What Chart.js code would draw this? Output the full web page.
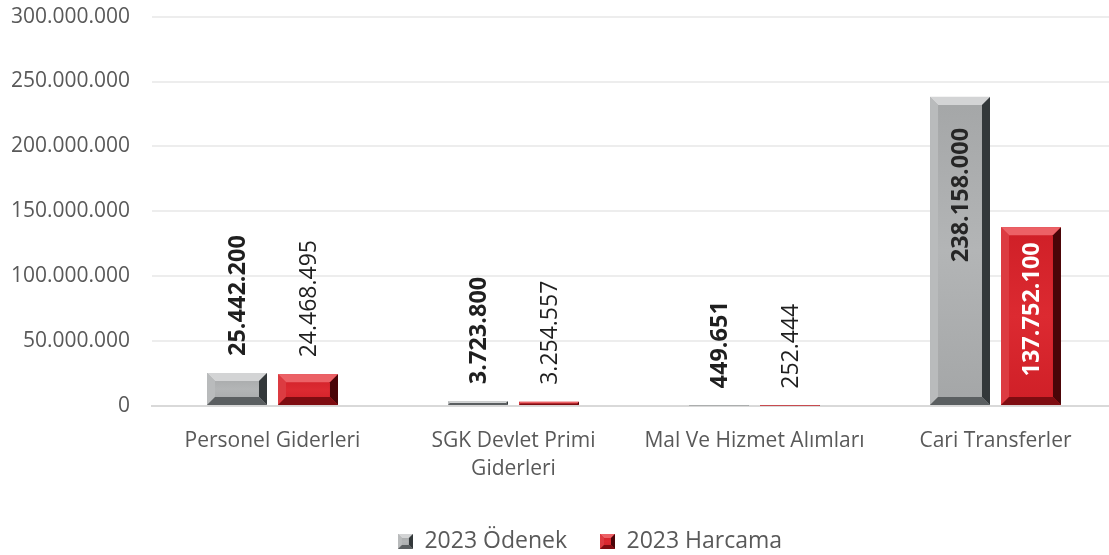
<!DOCTYPE html>
<html lang="tr">

<head>
    <meta charset="UTF-8">
    <title>2023 Ödenek / Harcama</title>
    <script src="https://cdn.jsdelivr.net/npm/chart.js"></script>
    <style>
        * {
            margin: 0;
            padding: 0;
            box-sizing: border-box;
        }

        body {
            background: #ffffff;
            width: 1109px;
            height: 555px;
            overflow: hidden;
        }

        .chart-box {
            position: relative;
            width: 1117px;
            height: 555px;
        }
    </style>
</head>

<body>
    <div class="chart-box">
        <canvas id="giderChart"></canvas>
    </div>

    <script>
        // data
        const categories = ['Personel Giderleri', ['SGK Devlet Primi', 'Giderleri'], 'Mal Ve Hizmet Alımları', 'Cari Transferler'];
        const odenek = [25442200, 3723800, 449651, 238158000];
        const harcama = [24468495, 3254557, 252444, 137752100];
        const seriesNames = ['2023 Ödenek', '2023 Harcama'];
        const yTicks = [0, 50000000, 100000000, 150000000, 200000000, 250000000, 300000000];

        const FONT = "'Open Sans', 'Noto Sans', sans-serif";

        // bevel colours per series
        const palettes = [
            { face: '#a4a6a7', faceMid: '#b3b5b6', top: '#d3d4d5', left: '#b9bbbc', right: '#33383a', bottom: '#5b5f61' },
            { face: '#cf1f27', faceMid: '#dc2a31', top: '#ec6166', left: '#dc3b41', right: '#4a0508', bottom: '#7e0c11' }
        ];

        function trTR(n) {
            return String(Math.round(n)).replace(/\B(?=(\d{3})+(?!\d))/g, '.');
        }

        function poly(ctx, pts, fill) {
            ctx.beginPath();
            ctx.moveTo(pts[0][0], pts[0][1]);
            for (let i = 1; i < pts.length; i++) ctx.lineTo(pts[i][0], pts[i][1]);
            ctx.closePath();
            ctx.fillStyle = fill;
            ctx.fill();
        }

        function drawBevel(ctx, l, t, r, bot, pal, size) {
            const w = r - l, h = bot - t;
            if (w <= 0 || h <= 0) return;
            const b = Math.min(size, w / 2, h / 2);
            // face
            const g = ctx.createLinearGradient(0, t, 0, bot);
            g.addColorStop(0, pal.face);
            g.addColorStop(0.5, pal.faceMid);
            g.addColorStop(1, pal.face);
            ctx.fillStyle = g;
            ctx.fillRect(l, t, w, h);
            poly(ctx, [[l, t], [r, t], [r - b, t + b], [l + b, t + b]], pal.top);
            poly(ctx, [[l, t], [l + b, t + b], [l + b, bot - b], [l, bot]], pal.left);
            poly(ctx, [[r, t], [r, bot], [r - b, bot - b], [r - b, t + b]], pal.right);
            poly(ctx, [[l, bot], [r, bot], [r - b, bot - b], [l + b, bot - b]], pal.bottom);
        }

        // small beveled squares for the legend
        const swatches = palettes.map(pal => {
            const c = document.createElement('canvas');
            c.width = 15;
            c.height = 15;
            drawBevel(c.getContext('2d'), 0, 0, 15, 15, pal, 4);
            return c;
        });

        const bevelBars = {
            id: 'bevelBars',
            afterDatasetDraw(chart, args) {
                const ctx = chart.ctx;
                const pal = palettes[args.index];
                ctx.save();
                args.meta.data.forEach(bar => {
                    const { x, y, base, width } = bar.getProps(['x', 'y', 'base', 'width'], true);
                    drawBevel(ctx, x - width / 2, Math.min(y, base), x + width / 2, Math.max(y, base), pal, 8);
                });
                ctx.restore();
            }
        };

        // vertical value labels
        const valueLabels = {
            id: 'valueLabels',
            afterDatasetsDraw(chart) {
                const ctx = chart.ctx;
                ctx.save();
                chart.data.datasets.forEach((ds, di) => {
                    const meta = chart.getDatasetMeta(di);
                    meta.data.forEach((bar, i) => {
                        const { x, y } = bar.getProps(['x', 'y'], true);
                        const text = trTR(ds.data[i]);
                        const inside = i === 3;
                        const bold = di === 0 || inside;
                        ctx.font = (bold ? 'bold 23.5px ' : '23px ') + FONT;
                        ctx.textBaseline = 'middle';
                        ctx.save();
                        if (inside) {
                            ctx.translate(x + 1, y + (di === 0 ? 31 : 15));
                            ctx.rotate(-Math.PI / 2);
                            ctx.textAlign = 'right';
                            ctx.fillStyle = di === 0 ? '#262626' : '#ffffff';
                        } else {
                            ctx.translate(x + 1, y - 17);
                            ctx.rotate(-Math.PI / 2);
                            ctx.textAlign = 'left';
                            ctx.fillStyle = '#1f1f1f';
                        }
                        ctx.fillText(text, 0, 0);
                        ctx.restore();
                    });
                });
                ctx.restore();
            }
        };

        // nudge the legend to where it sits in the original
        const legendNudge = {
            id: 'legendNudge',
            afterLayout(chart) {
                const lg = chart.legend;
                if (!lg) return;
                lg.left += 64;
                lg.top += 8;
                lg.bottom += 8;
            }
        };

        const ctx = document.getElementById('giderChart').getContext('2d');
        const giderChart = new Chart(ctx, {
            type: 'bar',
            data: {
                labels: categories,
                datasets: [
                    { label: seriesNames[0], data: odenek, backgroundColor: 'rgba(0,0,0,0)', borderWidth: 0 },
                    { label: seriesNames[1], data: harcama, backgroundColor: 'rgba(0,0,0,0)', borderWidth: 0 }
                ]
            },
            plugins: [bevelBars, valueLabels, legendNudge],
            options: {
                responsive: true,
                maintainAspectRatio: false,
                animation: false,
                categoryPercentage: 0.589,
                barPercentage: 0.845,
                layout: { padding: { left: 0, right: 1, top: 0, bottom: 0 } },
                scales: {
                    x: {
                        grid: { display: false },
                        border: { display: true, color: '#d9d9d9', width: 2 },
                        afterFit(axis) {
                            axis.height -= 7;
                        },
                        ticks: {
                            color: '#595959',
                            font: { family: FONT, size: 21, lineHeight: 1.38 },
                            padding: 12,
                            maxRotation: 0,
                            autoSkip: false
                        }
                    },
                    y: {
                        min: 0,
                        max: 300000000,
                        afterBuildTicks(axis) {
                            axis.ticks = yTicks.map(v => ({ value: v }));
                        },
                        afterFit(axis) {
                            axis.width = 152;
                        },
                        grid: { color: '#ededed', lineWidth: 2, drawTicks: true, tickLength: 18, tickColor: 'rgba(0,0,0,0)' },
                        border: { display: false },
                        ticks: {
                            color: '#595959',
                            font: { family: FONT, size: 21 },
                            padding: 4,
                            callback: v => trTR(v)
                        }
                    }
                },
                plugins: {
                    tooltip: { enabled: false },
                    legend: {
                        position: 'bottom',
                        labels: {
                            usePointStyle: true,
                            boxWidth: 15,
                            boxHeight: 15,
                            padding: 33,
                            color: '#595959',
                            font: { family: FONT, size: 23 },
                            generateLabels(chart) {
                                return chart.data.datasets.map((ds, i) => ({
                                    text: ds.label,
                                    fillStyle: palettes[i].face,
                                    strokeStyle: 'rgba(0,0,0,0)',
                                    lineWidth: 0,
                                    pointStyle: swatches[i],
                                    fontColor: '#595959',
                                    hidden: false,
                                    datasetIndex: i
                                }));
                            }
                        }
                    }
                }
            }
        });
    </script>
</body>

</html>
